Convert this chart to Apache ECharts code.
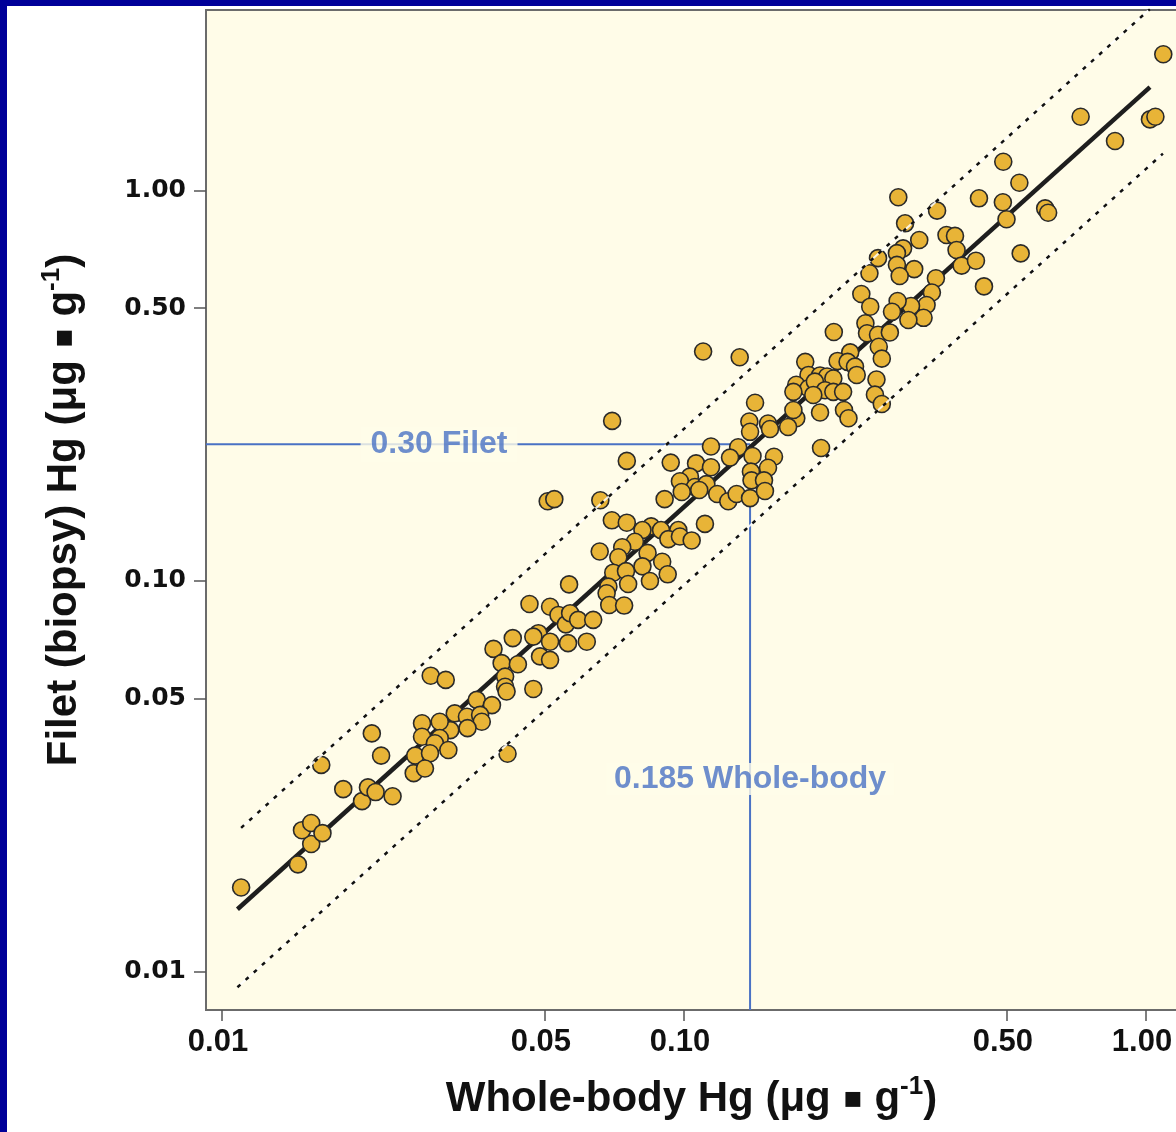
<!DOCTYPE html>
<html><head><meta charset="utf-8">
<script src="https://cdn.jsdelivr.net/npm/echarts@6/dist/echarts.min.js"></script>
<style>
html,body{margin:0;padding:0;background:#fff;}
#chart{position:absolute;left:0;top:0;width:1176px;height:1132px;}
.frameL{position:absolute;left:0;top:0;width:7px;height:1132px;background:#000099;}
.frameT{position:absolute;left:0;top:0;width:1176px;height:6px;background:#000099;}
</style></head><body>
<div id="chart"></div>
<div class="frameL"></div><div class="frameT"></div>
<script>
// Whole-body Hg (µg/g) and matching filet (biopsy) Hg (µg/g)
const wholeBody = [
0.0110,0.0146,0.0156,0.0149,0.0156,0.0165,0.0164,0.0183,0.0201,0.0207,0.0215,0.0234,0.0211,0.0221,0.0262,0.0260,0.0271,0.0271,
0.0463,0.0513,0.0535,0.0555,0.0564,0.0426,0.0484,0.0472,0.0513,0.0561,0.0387,0.0403,0.0437,0.0488,0.0513,0.0410,0.0410,0.0413,0.0472,0.0283,0.0305,0.0356,0.0384,0.0319,0.0339,0.0362,0.0365,0.0340,0.0312,0.0296,0.0296,0.0289,0.0309,0.0282,0.0275,0.0415,
0.0507,0.0524,0.0659,0.0698,0.0752,0.0849,0.0813,0.0892,0.0972,0.0925,0.0980,0.1039,0.1110,0.0783,0.0735,0.0657,0.0721,0.0834,0.0897,0.0813,0.0922,0.0844,0.0703,0.0749,0.0757,0.0686,0.0680,0.0689,0.0742,0.0567,0.0590,0.0636,0.0616,
0.0699,0.0752,0.0936,0.1425,0.1385,0.152,0.1535,0.139,0.1144,0.131,0.1258,0.1407,0.1566,0.1062,0.1144,0.1030,0.0980,0.1396,0.152,0.140,0.149,0.1056,0.1118,0.1079,0.0989,0.0908,0.118,0.1247,0.130,0.139,0.1497,
0.110,0.132,0.211,0.247,0.249,0.263,0.279,0.264,0.268,0.229,0.215,0.226,0.2345,0.2365,0.183,0.186,0.197,0.204,0.2105,0.175,0.186,0.192,0.202,0.2105,0.221,0.1725,0.1905,0.261,0.259,0.268,0.197,0.222,0.227,0.175,0.168,0.1725,0.198,
0.291,0.435,0.490,0.532,0.605,0.614,0.499,0.353,0.301,0.323,0.370,0.386,0.389,0.399,0.4285,0.5355,0.446,0.298,0.289,0.289,0.315,0.293,0.263,0.252,0.351,0.344,0.335,0.310,0.330,0.306,0.290,0.282,0.242,0.253,
1.090,0.722,1.020,1.048,0.857,0.491
];
const filet = [
0.0164,0.0188,0.0212,0.0230,0.0240,0.0226,0.0338,0.0293,0.0273,0.0296,0.0288,0.0281,0.0407,0.0357,0.0357,0.0322,0.0432,0.0399,
0.0873,0.0859,0.0818,0.0774,0.0980,0.0714,0.0735,0.0720,0.0699,0.0693,0.0670,0.0616,0.0612,0.0641,0.0628,0.0569,0.0536,0.0521,0.0529,0.0572,0.0558,0.0496,0.0481,0.0458,0.0449,0.0454,0.0436,0.0420,0.0415,0.0436,0.0396,0.0384,0.0369,0.0362,0.0331,0.0361,
0.160,0.162,0.161,0.143,0.141,0.138,0.135,0.135,0.135,0.128,0.130,0.127,0.140,0.126,0.122,0.119,0.115,0.118,0.112,0.109,0.104,0.100,0.105,0.106,0.0982,0.0967,0.0930,0.0868,0.0865,0.0827,0.0795,0.0795,0.0699,
0.257,0.203,0.201,0.286,0.256,0.253,0.245,0.241,0.221,0.220,0.207,0.209,0.208,0.200,0.1955,0.185,0.180,0.1905,0.195,0.181,0.181,0.174,0.177,0.171,0.169,0.162,0.167,0.160,0.167,0.163,0.170,
0.387,0.374,0.434,0.457,0.431,0.427,0.433,0.398,0.371,0.385,0.366,0.364,0.354,0.337,0.364,0.337,0.336,0.334,0.330,0.318,0.3115,0.324,0.308,0.305,0.305,0.305,0.2995,0.328,0.300,0.284,0.270,0.274,0.261,0.261,0.248,0.274,0.219,
0.961,0.955,0.933,1.047,0.900,0.877,0.844,0.888,0.824,0.747,0.769,0.765,0.704,0.642,0.661,0.690,0.568,0.711,0.691,0.645,0.629,0.604,0.671,0.614,0.596,0.548,0.509,0.506,0.472,0.466,0.521,0.489,0.543,0.504,
2.233,1.545,1.521,1.545,1.339,1.185
];
const tickValues = [0.01, 0.05, 0.10, 0.50, 1.00];
const xRange = [0.009234, 1.1906];
const yRange = [0.007966, 2.899];
// regression line and dotted bands (end points)
const fitX = [0.0108, 1.02],  fitY = [0.01443, 1.840];
const upX  = [0.0110, 1.02],  upY  = [0.02332, 2.917];
const loX  = [0.0108, 1.088], loY  = [0.00911, 1.243];
// reference lines
const filetRef = 0.224, wholeRef = 0.139;
const filetLabel = '0.30 Filet', wholeLabel = '0.185 Whole-body';
const filetLabelX = 0.0295, wholeLabelY = 0.0311;

const L = Math.log10;
const pair = (xs, ys) => xs.map((x, i) => [L(x), L(ys[i])]);
const plotBg = '#FFFCE8';
const blue = '#4A72C4';
const ink = '#111111';
const titleRich = {
  t: {fontFamily: 'Liberation Sans, Arial, sans-serif', fontWeight: 'bold', fontSize: 42, lineHeight: 50, color: ink, verticalAlign: 'middle'},
  b: {fontFamily: 'DejaVu Sans, sans-serif', fontWeight: 'bold', fontSize: 30, lineHeight: 50, color: ink, verticalAlign: 'middle'},
  sup: {fontFamily: 'Liberation Sans, Arial, sans-serif', fontWeight: 'bold', fontSize: 26, lineHeight: 30, color: ink, verticalAlign: 'top'}
};
const tickFmt = v => Math.pow(10, v).toFixed(2);
const tv = tickValues.map(L);

const chart = echarts.init(document.getElementById('chart'), null, {renderer: 'canvas'});
chart.setOption({
  animation: false,
  backgroundColor: '#ffffff',
  grid: {left: 206, top: 10, width: 975, height: 1000, show: true, backgroundColor: plotBg,
         borderColor: '#6b6b6b', borderWidth: 2, outerBoundsMode: 'none'},
  xAxis: {
    type: 'value', min: L(xRange[0]), max: L(xRange[1]),
    axisLine: {show: false, onZero: false}, splitLine: {show: false},
    axisTick: {show: true, customValues: tv, length: 11, lineStyle: {color: '#555', width: 1.5}},
    axisLabel: {customValues: tv, formatter: tickFmt, fontFamily: 'Liberation Sans, Arial, sans-serif',
                fontWeight: 'bold', fontSize: 31, color: ink, margin: 17, padding: [0, 8, 0, 0]},
    name: '{t|Whole-body Hg (μg }{b|▪}{t| g}{sup|-1}{t|)}', nameLocation: 'middle', nameGap: 64,
    nameTextStyle: {rich: titleRich, padding: [0, 4, 0, 0]}
  },
  yAxis: {
    type: 'value', min: L(yRange[0]), max: L(yRange[1]),
    axisLine: {show: false, onZero: false}, splitLine: {show: false},
    axisTick: {show: true, customValues: tv, length: 12, lineStyle: {color: '#555', width: 1.5}},
    axisLabel: {customValues: tv, formatter: tickFmt, fontFamily: 'DejaVu Sans, sans-serif',
                fontWeight: 'bold', fontSize: 25, color: ink, margin: 20},
    name: '{t|Filet (biopsy) Hg (μg }{b|▪}{t| g}{sup|-1}{t|)}', nameLocation: 'middle', nameGap: 117, nameRotate: 90,
    nameTextStyle: {rich: titleRich}
  },
  series: [
    {type: 'line', silent: true, symbol: 'none', z: 1,
     data: [[L(xRange[0]), L(filetRef)], [L(wholeRef), L(filetRef)]],
     lineStyle: {color: blue, width: 2}},
    {type: 'line', silent: true, symbol: 'none', z: 1,
     data: [[L(wholeRef), L(filetRef)], [L(wholeRef), L(yRange[0])]],
     lineStyle: {color: blue, width: 2}},
    {type: 'line', silent: true, symbol: 'none', z: 2, data: pair(fitX, fitY),
     lineStyle: {color: '#1e1e1e', width: 4.5}},
    {type: 'scatter', z: 3, data: pair(wholeBody, filet), symbolSize: 17,
     itemStyle: {color: '#E8B437', borderColor: '#2a2a2a', borderWidth: 1.6, opacity: 1}},
    {type: 'line', silent: true, symbol: 'none', z: 4, data: pair(upX, upY),
     lineStyle: {color: '#ffffff', width: 2, opacity: 0.85}},
    {type: 'line', silent: true, symbol: 'none', z: 4, data: pair(loX, loY),
     lineStyle: {color: '#ffffff', width: 2, opacity: 0.85}},
    {type: 'line', silent: true, symbol: 'none', z: 5, data: pair(upX, upY),
     lineStyle: {color: '#111', width: 2.5, type: [4, 7]}},
    {type: 'line', silent: true, symbol: 'none', z: 5, data: pair(loX, loY),
     lineStyle: {color: '#111', width: 2.5, type: [4, 7]}},
    {type: 'scatter', silent: true, z: 6, symbolSize: 1, itemStyle: {color: 'rgba(0,0,0,0)'},
     data: [[L(filetLabelX), L(filetRef)]],
     label: {show: true, position: 'inside', formatter: filetLabel, color: blue,
             fontFamily: 'Liberation Sans, Arial, sans-serif', fontWeight: 'bold', fontSize: 32,
             backgroundColor: plotBg, padding: [2, 10]}},
    {type: 'scatter', silent: true, z: 6, symbolSize: 1, itemStyle: {color: 'rgba(0,0,0,0)'},
     data: [[L(wholeRef), L(wholeLabelY)]],
     label: {show: true, position: 'inside', formatter: wholeLabel, color: blue,
             fontFamily: 'Liberation Sans, Arial, sans-serif', fontWeight: 'bold', fontSize: 32,
             backgroundColor: plotBg, padding: [0, 8]}}
  ]
});
</script>
</body></html>
